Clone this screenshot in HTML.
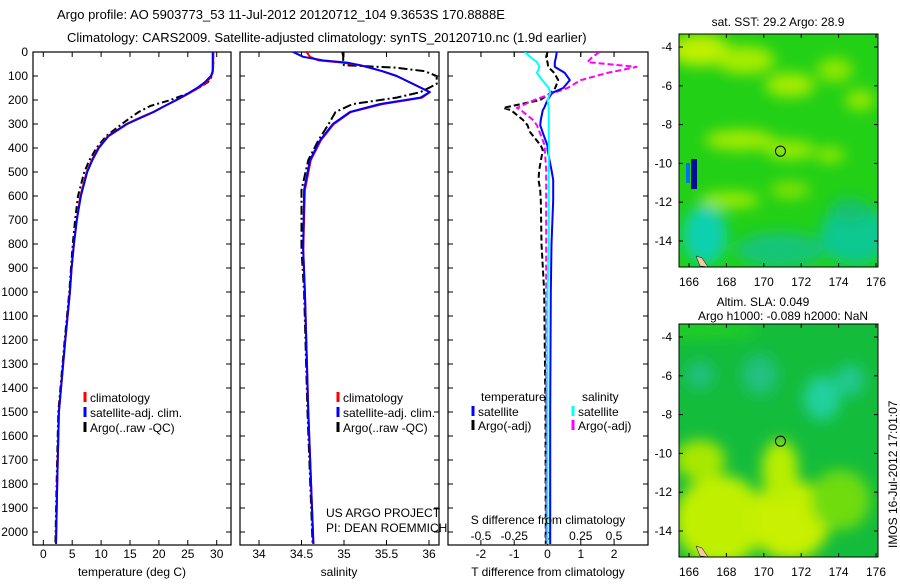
<!DOCTYPE html>
<html><head><meta charset="utf-8">
<style>
html,body{margin:0;padding:0;background:#fff;}
svg text{font-family:"Liberation Sans",sans-serif;fill:#000;}
</style></head>
<body>
<svg id="c" width="900" height="580" xmlns="http://www.w3.org/2000/svg">
<defs>
<filter id="bl" x="-50%" y="-50%" width="200%" height="200%"><feGaussianBlur stdDeviation="7"/></filter>
<clipPath id="m1c"><rect x="679" y="34" width="199" height="233"/></clipPath>
<clipPath id="m2c"><rect x="679" y="324" width="199" height="233"/></clipPath>
<clipPath id="p1c"><rect x="33" y="52" width="198" height="493"/></clipPath>
<clipPath id="p2c"><rect x="240" y="52" width="199" height="493"/></clipPath>
<clipPath id="p3c"><rect x="448" y="52" width="200" height="493"/></clipPath>
</defs>
<text x="57" y="19" font-size="13">Argo profile: AO 5903773_53 11-Jul-2012 20120712_104 9.3653S 170.8888E</text>
<text x="67" y="42" font-size="13">Climatology: CARS2009. Satellite-adjusted climatology: synTS_20120710.nc (1.9d earlier)</text>
<g id="g"></g>
</svg>
<script>
// shared depth axis
const depthTicks=[0,100,200,300,400,500,600,700,800,900,1000,1100,1200,1300,1400,1500,1600,1700,1800,1900,2000];
// temperature panel
const tTicks=[0,5,10,15,20,25,30];
const tDepth=[0,60,80,100,125,150,175,200,225,250,275,300,350,400,450,500,600,700,800,900,1000,1200,1500,1800,2050];
const tClim=[29.4,29.4,29.3,29.1,28.3,26.8,25.0,23.1,21.0,19.0,16.6,14.4,11.2,9.5,8.4,7.5,6.4,5.8,5.3,4.9,4.6,3.8,2.7,2.4,2.2];
const tSat=[29.3,29.3,29.3,29.0,28.0,26.6,24.9,23.0,21.0,19.1,16.8,14.5,11.3,9.6,8.5,7.6,6.5,5.8,5.3,4.9,4.6,3.8,2.7,2.4,2.2];
const tArgo=[29.4,29.4,29.3,29.2,28.5,26.9,24.8,22.0,18.5,16.5,15.0,13.6,10.9,9.2,8.0,7.1,6.0,5.5,5.1,4.8,4.5,3.7,2.6,2.3,2.1];
// salinity panel
const sTicks=[34,34.5,35,35.5,36];
const sDepth=[0,20,35,45,55,65,80,100,133,167,190,217,250,300,367,450,575,825,1000,1500,2050];
const sClim=[34.56,34.60,34.70,35.00,35.19,35.30,35.45,35.62,35.81,36.01,35.92,35.45,35.08,34.88,34.73,34.61,34.54,34.52,34.54,34.58,34.64];
const sSat=[34.40,34.52,34.75,35.05,35.19,35.30,35.45,35.62,35.81,36.01,35.90,35.42,35.07,34.87,34.72,34.60,34.53,34.52,34.54,34.58,34.64];
const sArgo=[34.98,34.99,34.99,34.99,35.00,35.60,35.95,36.09,36.09,35.90,35.62,35.10,34.90,34.82,34.70,34.58,34.50,34.50,34.53,34.57,34.63];
// difference panel
const dTTicks=[-2,-1,0,1,2];
const dSTicks=[-0.5,-0.25,0,0.25,0.5];
const dDepth=[0,25,42,62,87,117,150,170,200,233,242,283,305,333,390,408,492,533,575,617,800,1000,1500,2050];
const dTSat=[0.28,0.25,0.22,0.22,0.52,0.67,0.47,0.14,0.0,-0.1,-0.14,-0.2,-0.22,-0.15,0.0,0.0,0.12,0.17,0.17,0.17,0.12,0.1,0.08,0.08];
const dTArgo=[0.0,-0.05,0.0,0.02,0.2,0.32,0.23,0.1,-0.22,-1.33,-1.1,-0.74,-0.6,-0.53,-0.2,-0.14,-0.25,-0.27,-0.22,-0.2,-0.18,-0.1,-0.06,-0.05];
const dSSat=[-0.17,-0.12,-0.08,-0.06,-0.08,-0.04,0.01,0.02,0.0,0.01,0.01,0.01,0.01,0.01,0.01,0.01,0.01,0.01,0.01,0.01,0.01,0.0,0.0,0.0];
const dSArgo=[0.39,0.33,0.3,0.67,0.45,0.25,0.15,0.05,-0.1,-0.23,-0.2,-0.11,-0.08,-0.06,-0.02,-0.02,-0.01,-0.01,-0.01,-0.01,-0.01,-0.01,-0.01,-0.01];

const NS='http://www.w3.org/2000/svg';
const G=document.getElementById('g');
function el(t,a,p){const e=document.createElementNS(NS,t);for(const k in a)e.setAttribute(k,a[k]);(p||G).appendChild(e);return e;}
const yD=d=>52+0.24*d;
const xT=v=>43.3+5.78*v;
const xS=v=>259+85*(v-34);
const xDT=v=>547.5+33.3*v;
const xDS=v=>547.5+133*v;

function frame(x,w,name){
  const r=el('rect',{x:x,y:52,width:w,height:493,fill:'#fff',stroke:'#000','stroke-width':1.2});
  
  
  depthTicks.forEach(d=>{
    el('line',{x1:x,x2:x+5,y1:yD(d),y2:yD(d),stroke:'#000'});
    el('line',{x1:x+w-5,x2:x+w,y1:yD(d),y2:yD(d),stroke:'#000'});
  });
}
function xticks(vals,fx,labelY,name,top){
  vals.forEach(v=>{
    const x=fx(v);
    el('line',{x1:x,x2:x,y1:545,y2:540,stroke:'#000'});
    if(top!==false) el('line',{x1:x,x2:x,y1:52,y2:57,stroke:'#000'});
    const t=el('text',{x:x,y:labelY,'font-size':12,'text-anchor':'middle'});
    t.textContent=String(v);
    
    
  });
}
function line(depth,vals,fx,color,dash,name,clip){
  const pts=depth.map((d,i)=>fx(vals[i]).toFixed(1)+','+yD(d).toFixed(1)).join(' ');
  const a={points:pts,fill:'none',stroke:color,'stroke-width':2,'clip-path':'url(#'+clip+')','stroke-linejoin':'round'};
  if(dash)a['stroke-dasharray']=dash;
  const p=el('polyline',a);
  
  
}
function txt(x,y,s,name,size,anchor){
  const t=el('text',{x:x,y:y,'font-size':size||12});
  if(anchor)t.setAttribute('text-anchor',anchor);
  t.textContent=s;
  
  
  return t;
}
function legItem(x,y,color,label,name){
  const l=el('line',{x1:x,x2:x,y1:y-10,y2:y,stroke:color,'stroke-width':3});
  
  
  txt(x+5,y,label,name+'-label');
}

// Panel 1: temperature
frame(33,198,'temperature-panel');
depthTicks.forEach(d=>{txt(28,yD(d)+4,String(d),'y-tick-label',12,'end');});
xticks(tTicks,xT,558,'temperature-tick-label');
line(tDepth,tArgo,xT,'#000','7,3,2,3','argo-temperature-line','p1c');
line(tDepth,tClim,xT,'#f00',null,'climatology-temperature-line','p1c');
line(tDepth,tSat,xT,'#00f',null,'satellite-temperature-line','p1c');
txt(132,576,'temperature (deg C)','temperature-axis-title',12,'middle');
legItem(85,402,'#f00','climatology','legend-climatology-t');
legItem(85,417,'#00f','satellite-adj. clim.','legend-satellite-t');
legItem(85,432,'#000','Argo(..raw -QC)','legend-argo-t');

// Panel 2: salinity
frame(240,199,'salinity-panel');
xticks(sTicks,xS,558,'salinity-tick-label');
line(sDepth,sArgo,xS,'#000','9,3,2,3','argo-salinity-line','p2c');
line(sDepth,sClim,xS,'#f00',null,'climatology-salinity-line','p2c');
line(sDepth,sSat,xS,'#00f',null,'satellite-salinity-line','p2c');
txt(339,576,'salinity','salinity-axis-title',12,'middle');
legItem(338,402,'#f00','climatology','legend-climatology-s');
legItem(338,417,'#00f','satellite-adj. clim.','legend-satellite-s');
legItem(338,432,'#000','Argo(..raw -QC)','legend-argo-s');
txt(326,517,'US ARGO PROJECT','project-label');
txt(326,532,'PI: DEAN ROEMMICH','pi-label');

// Panel 3: differences
frame(448,200,'difference-panel');
xticks(dTTicks,xDT,558,'t-diff-tick-label');
dSTicks.forEach(v=>{const x=xDS(v);el('line',{x1:x,x2:x,y1:52,y2:57,stroke:'#000'});
  txt(x,540,String(v),'s-diff-tick-label',12,'middle');});
line(dDepth,dTArgo,xDT,'#000','6,3','argo-t-diff-line','p3c');
line(dDepth,dSArgo,xDS,'#f0f','6,3','argo-s-diff-line','p3c');
line(dDepth,dTSat,xDT,'#00f',null,'satellite-t-diff-line','p3c');
line(dDepth,dSSat,xDS,'#0ff',null,'satellite-s-diff-line','p3c');
txt(548,576,'T difference from climatology','t-diff-axis-title',12,'middle');
txt(548,524,'S difference from climatology','s-diff-axis-title',12,'middle');
txt(481,401,'temperature','legend-temperature-heading');
legItem(473,416,'#00f','satellite','legend-t-satellite');
legItem(473,430,'#000','Argo(-adj)','legend-t-argo');
txt(582,401,'salinity','legend-salinity-heading');
legItem(573,416,'#0ff','satellite','legend-s-satellite');
legItem(573,430,'#f0f','Argo(-adj)','legend-s-argo');

// Maps
const lonTicks=[166,168,170,172,174,176];
const latTicks=[-4,-6,-8,-10,-12,-14];
const xL=v=>689+18.7*(v-166);
function mapAxes(y0,name){
  const r=el('rect',{x:679,y:y0,width:199,height:233,fill:'none',stroke:'#000'});
  
  
  lonTicks.forEach(v=>{const x=xL(v);el('line',{x1:x,x2:x,y1:y0,y2:y0+4,stroke:'#000'});el('line',{x1:x,x2:x,y1:y0+233,y2:y0+229,stroke:'#000'});
    txt(x,y0+252,String(v),name+'-lon-label',12,'middle');});
  latTicks.forEach(v=>{const y=y0+13+19.4*(-4-v);el('line',{x1:679,x2:683,y1:y,y2:y,stroke:'#000'});el('line',{x1:874,x2:878,y1:y,y2:y,stroke:'#000'});
    txt(672,y+4,String(v),name+'-lat-label',12,'end');});
  const c=el('circle',{cx:xL(170.89),cy:y0+13+19.4*(9.37-4),r:5,fill:'none',stroke:'#000'});
  
  
}
// SST map
let m1=el('g',{'clip-path':'url(#m1c)'});


el('rect',{x:679,y:34,width:199,height:233,fill:'#22d016'},m1);
const b1=el('g',{filter:'url(#bl)'},m1);
[[700,50,30,16,'#c0f000'],[745,60,30,14,'#a8ec00'],[790,85,25,12,'#a8ec00'],[835,70,18,12,'#90e800'],[860,100,15,10,'#98ea00'],[740,140,35,10,'#a8ec00'],[790,150,25,10,'#98ea00'],[830,155,15,8,'#90e800'],[730,200,30,8,'#a0ec00'],[790,190,20,8,'#8ae400'],[855,235,35,30,'#10c890'],[780,250,45,18,'#18c478'],[705,235,22,30,'#10d0b0'],[850,210,20,12,'#18c070']].forEach(a=>el('ellipse',{cx:a[0],cy:a[1],rx:a[2],ry:a[3],fill:a[4]},b1));
el('rect',{x:691,y:159,width:6,height:30,fill:'#001090'},m1);
el('rect',{x:686,y:163,width:4,height:20,fill:'#0070f0'},m1);
el('path',{d:'M696 256 L700 266 L708 267 L702 258 Z',fill:'#f4c8a0',stroke:'#000','stroke-width':0.5},m1);
mapAxes(34,'sst-map');
txt(778,26,'sat. SST: 29.2 Argo: 28.9','sst-map-title',12,'middle');
// SLA map
let m2=el('g',{'clip-path':'url(#m2c)'});


el('rect',{x:679,y:324,width:199,height:233,fill:'#14bc3c'},m2);
const b2=el('g',{filter:'url(#bl)'},m2);
[[720,520,45,45,'#c0f000'],[790,520,40,40,'#c8f000'],[780,470,18,30,'#b8ee00'],[840,500,30,30,'#70dc10'],[700,460,25,20,'#a8e800'],[822,398,18,22,'#20d0a0'],[850,380,14,16,'#20c890'],[760,375,18,20,'#20c080'],[700,375,14,14,'#20c080'],[700,330,60,8,'#20d020']].forEach(a=>el('ellipse',{cx:a[0],cy:a[1],rx:a[2],ry:a[3],fill:a[4]},b2));
el('path',{d:'M696 546 L700 556 L708 557 L702 548 Z',fill:'#f4c8a0',stroke:'#000','stroke-width':0.5},m2);
mapAxes(324,'sla-map');
txt(763,306,'Altim. SLA: 0.049','sla-map-title-1',12,'middle');
txt(783,320,'Argo h1000: -0.089 h2000: NaN','sla-map-title-2',12,'middle');
const st=txt(0,0,'IMOS 16-Jul-2012 17:01:07','imos-timestamp',12);
st.setAttribute('transform','translate(897,548) rotate(-90)');
</script>
</body></html>
